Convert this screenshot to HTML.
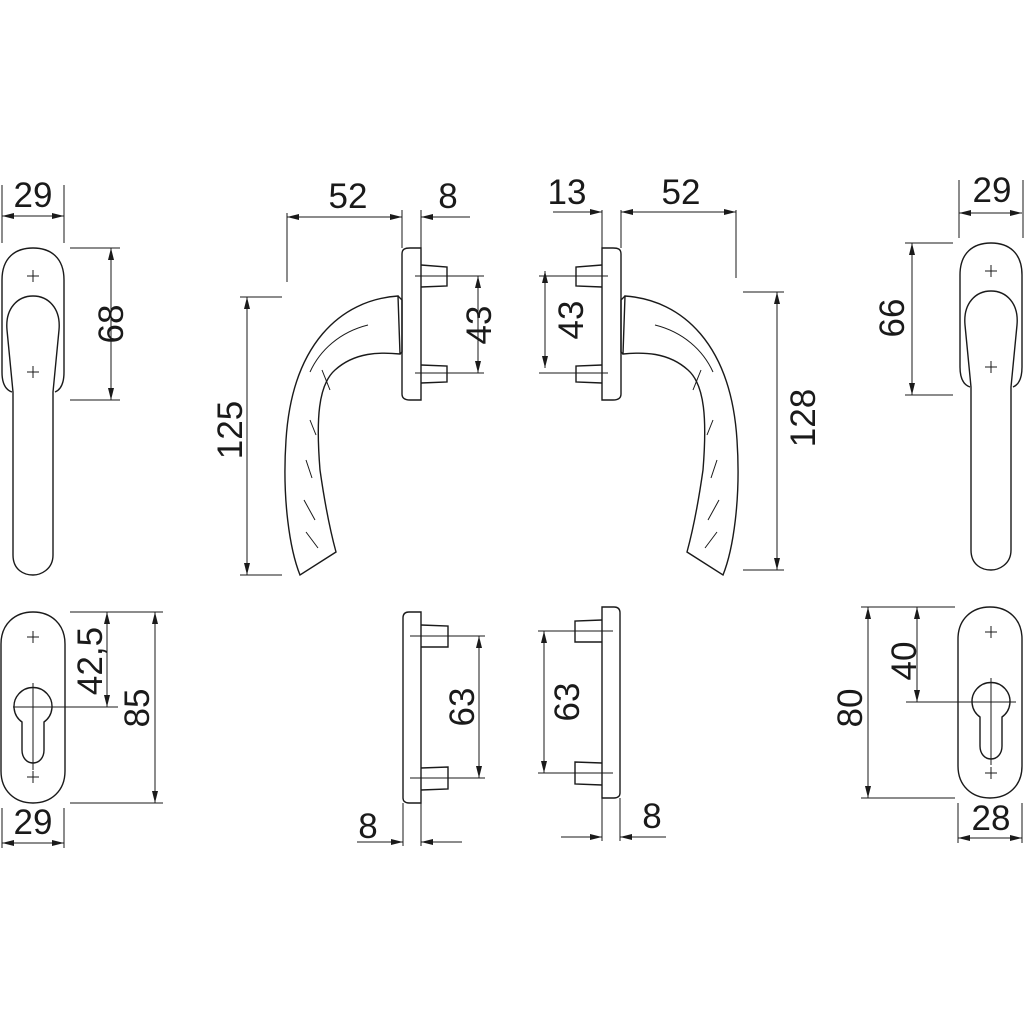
<!DOCTYPE html>
<html><head><meta charset="utf-8"><style>
html,body{margin:0;padding:0;background:#fff;}
svg{display:block;}
text{font-family:"Liberation Sans",sans-serif;font-size:35px;fill:#1a1a1a;}
</style></head><body>
<svg width="1024" height="1024" viewBox="0 0 1024 1024" xmlns="http://www.w3.org/2000/svg">
<defs>
<marker id="a" viewBox="0 0 12 6" refX="12" refY="3" markerWidth="12" markerHeight="6" orient="auto-start-reverse" markerUnits="userSpaceOnUse"><path d="M0,0 L12,3 L0,6 Z" fill="#1a1a1a"/></marker>
<g id="tophandle">
<path d="M2,280 C2,258 15,248 33,248 C51,248 64,258 64,280 L64,372 C64,384 60,390 55,392"/>
<path d="M2,280 L2,372 C2,384 6,390 12,392"/>
<path d="M7,330 C5,308 18,296 33,296 C48,296 61,308 59,330 L53,392 L53,555 C53,570 40,575 33,575 C24,575 13,570 13,555 L13,392 Z"/>
<path d="M27,276 h12 M33,270 v12 M27,372 h12 M33,366 v12" stroke-width="1"/>
</g>
<g id="side">
<path d="M402,254 C402,249 405,248 410,248 L421,248 L421,400 L410,400 C405,400 402,398 402,394 Z"/>
<path d="M421,265 L447,267 L447,286 L421,287 M421,365 L447,366 L447,382 L421,383"/>
<path d="M415,276 H484 M415,373 H484" stroke-width="1"/>
<path d="M398,296 C340,300 292,345 286,440 C282,500 290,550 300,575 L336,552 C330,530 325,505 320,470 C316,420 318,385 335,370 C355,352 380,352 400,354 Z"/>
<path d="M398,296 L402,300 L402,352 L400,354"/>
<path d="M368,325 C340,332 320,350 310,372" stroke-width="1"/>
<path d="M322,370 L330,390 M310,420 L316,435 M306,460 L312,478 M304,500 L315,520 M306,532 L318,548" stroke-width="1"/>
<path d="M402,210 V248 M421,210 V248" stroke-width="1"/>
</g>
<g id="bside">
<path d="M403,618 C403,614 405,612 409,612 L421,612 L421,803 L409,803 C405,803 403,801 403,798 Z"/>
<path d="M421,625 L448,626 L448,647 L421,647 M421,768 L448,767 L448,789 L421,790"/>
<path d="M410,636 H485 M410,778 H485" stroke-width="1"/>
<path d="M403,803 V846 M421,803 V846" stroke-width="1"/>
</g>
</defs>
<g fill="none" stroke="#1a1a1a" stroke-width="1.4">
<use href="#tophandle"/>
<use href="#tophandle" transform="translate(958,-5)"/>
<use href="#side"/>
<use href="#side" transform="translate(1023,0) scale(-1,1)"/>
<use href="#bside"/>
<use href="#bside" transform="translate(1023,-5) scale(-1,1)"/>

<!-- bottom left escutcheon -->
<path d="M1,644 C1,624 15,612 33,612 C51,612 65,624 65,644 L65,771 C65,791 51,803 33,803 C15,803 1,791 1,771 Z"/>
<path d="M22,722 A19,19 0 1 1 44,722 L44,750 C44,758 39,763 33,763 C27,763 22,758 22,750 Z"/>
<path d="M27,637 h12 M33,631 v12 M27,777 h12 M33,771 v12" stroke-width="1"/>
<path d="M13,707 H118 M33,683 V770" stroke-width="1"/>
<!-- bottom right escutcheon -->
<path d="M958,639 C958,619 972,607 990,607 C1008,607 1022,619 1022,639 L1022,766 C1022,786 1008,798 990,798 C972,798 958,786 958,766 Z"/>
<path d="M980,717 A19,19 0 1 1 1002,717 L1002,746 C1002,754 997,759 991,759 C985,759 980,754 980,746 Z"/>
<path d="M985,632 h12 M991,626 v12 M985,773 h12 M991,767 v12" stroke-width="1"/>
<path d="M906,702 H1016 M991,678 V765" stroke-width="1"/>
</g>

<g fill="none" stroke="#1a1a1a" stroke-width="1">
<path d="M2,185 V243 M64,185 V243"/>
<line x1="2" y1="216" x2="64" y2="216" marker-start="url(#a)" marker-end="url(#a)"/>
<path d="M70,248 H120 M70,400 H120"/>
<line x1="111" y1="248" x2="111" y2="400" marker-start="url(#a)" marker-end="url(#a)"/>
<path d="M287,213 V282"/>
<line x1="287" y1="217" x2="402" y2="217" marker-start="url(#a)" marker-end="url(#a)"/>
<line x1="470" y1="217" x2="421" y2="217" marker-end="url(#a)"/>
<line x1="478" y1="276" x2="478" y2="373" marker-start="url(#a)" marker-end="url(#a)"/>
<path d="M240,297 H282 M240,575 H282"/>
<line x1="247" y1="297" x2="247" y2="575" marker-start="url(#a)" marker-end="url(#a)"/>
<path d="M736,210 V278"/>
<line x1="621" y1="212" x2="736" y2="212" marker-start="url(#a)" marker-end="url(#a)"/>
<line x1="553" y1="212" x2="602" y2="212" marker-end="url(#a)"/>
<line x1="545" y1="271" x2="545" y2="368" marker-start="url(#a)" marker-end="url(#a)"/>
<path d="M743,292 H784 M743,570 H784"/>
<line x1="777" y1="292" x2="777" y2="570" marker-start="url(#a)" marker-end="url(#a)"/>
<path d="M959,180 V238 M1023,180 V238"/>
<line x1="959" y1="213" x2="1022" y2="213" marker-start="url(#a)" marker-end="url(#a)"/>
<path d="M905,243 H953 M905,395 H953"/>
<line x1="912" y1="243" x2="912" y2="395" marker-start="url(#a)" marker-end="url(#a)"/>
<path d="M70,612 H163 M70,803 H163"/>
<line x1="107" y1="612" x2="107" y2="707" marker-start="url(#a)" marker-end="url(#a)"/>
<line x1="155" y1="612" x2="155" y2="803" marker-start="url(#a)" marker-end="url(#a)"/>
<path d="M2,808 V848 M64,808 V848"/>
<line x1="2" y1="843" x2="64" y2="843" marker-start="url(#a)" marker-end="url(#a)"/>
<line x1="479" y1="636" x2="479" y2="778" marker-start="url(#a)" marker-end="url(#a)"/>
<line x1="357" y1="842" x2="403" y2="842" marker-end="url(#a)"/>
<line x1="462" y1="842" x2="421" y2="842" marker-end="url(#a)"/>
<line x1="544" y1="631" x2="544" y2="773" marker-start="url(#a)" marker-end="url(#a)"/>
<line x1="561" y1="837" x2="602" y2="837" marker-end="url(#a)"/>
<line x1="666" y1="837" x2="620" y2="837" marker-end="url(#a)"/>
<path d="M861,607 H955 M861,798 H955"/>
<line x1="868" y1="607" x2="868" y2="798" marker-start="url(#a)" marker-end="url(#a)"/>
<line x1="917" y1="607" x2="917" y2="702" marker-start="url(#a)" marker-end="url(#a)"/>
<path d="M958,803 V843 M1022,803 V843"/>
<line x1="958" y1="838" x2="1022" y2="838" marker-start="url(#a)" marker-end="url(#a)"/>
</g>

<g text-anchor="middle">
<text x="33" y="207">29</text>
<text transform="translate(123,324) rotate(-90)">68</text>
<text x="348" y="208">52</text>
<text x="448" y="208">8</text>
<text transform="translate(491,325) rotate(-90)">43</text>
<text transform="translate(242,430) rotate(-90)">125</text>
<text x="567" y="204">13</text>
<text x="681" y="204">52</text>
<text transform="translate(583,320) rotate(-90)">43</text>
<text transform="translate(815,418) rotate(-90)">128</text>
<text x="992" y="202">29</text>
<text transform="translate(904,318) rotate(-90)">66</text>
<text transform="translate(102,661) rotate(-90)">42,5</text>
<text transform="translate(149,708) rotate(-90)">85</text>
<text x="33" y="834">29</text>
<text transform="translate(474,707) rotate(-90)">63</text>
<text x="368" y="838">8</text>
<text transform="translate(579,702) rotate(-90)">63</text>
<text x="652" y="828">8</text>
<text transform="translate(862,708) rotate(-90)">80</text>
<text transform="translate(916,661) rotate(-90)">40</text>
<text x="991" y="830">28</text>
</g>
</svg>
</body></html>
